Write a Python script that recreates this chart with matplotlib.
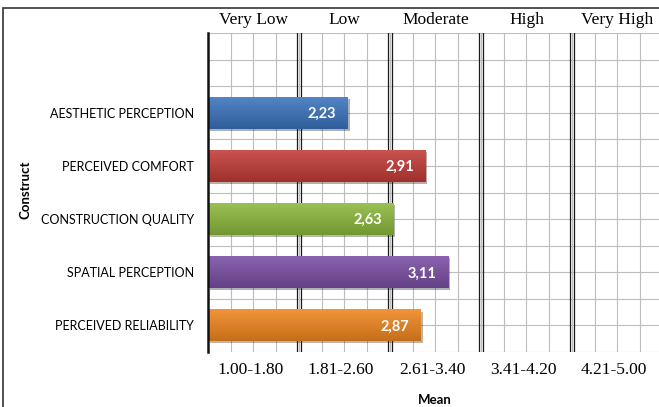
import matplotlib
matplotlib.use("Agg")
import matplotlib.pyplot as plt
import matplotlib.patheffects as pe
import matplotlib.colors as mcolors
import numpy as np
from matplotlib.patches import Rectangle

# data
constructs = ["AESTHETIC PERCEPTION", "PERCEIVED COMFORT", "CONSTRUCTION QUALITY",
              "SPATIAL PERCEPTION", "PERCEIVED RELIABILITY"]
means = [2.23, 2.91, 2.63, 3.11, 2.87]
value_labels = ["2,23", "2,91", "2,63", "3,11", "2,87"]
bar_colors = ["#3b73bd", "#c23b36", "#8cb83c", "#7a4ea3", "#f0861f"]

band_names = ["Very Low", "Low", "Moderate", "High", "Very High"]
band_ranges = ["1.00-1.80", "1.81-2.60", "2.61-3.40", "3.41-4.20", "4.21-5.00"]
band_edges = [1.0, 1.8, 2.6, 3.4, 4.2, 5.0]

fig = plt.figure(figsize=(6.59, 4.07), dpi=100)
ax = fig.add_axes([208/659, 1-352/407, (659-208)/659, (352-33)/407])

xmax = 4.965
ax.set_xlim(1.0, xmax)
ax.set_ylim(-0.5, 5.5)

# light grid
for xv in np.arange(1.2, 5.0, 0.2):
    ax.axvline(xv, color="#bdbdbd", lw=0.8, zorder=0)
for yv in np.arange(-0.5, 5.51, 0.5):
    ax.axhline(yv, color="#bdbdbd", lw=0.8, zorder=0)

# double lines at band edges
for e in band_edges[1:-1]:
    for d in (-0.016, 0.016):
        ax.axvline(e + d, color="#1a1a1a", lw=0.9, zorder=1)

y = np.arange(len(constructs))[::-1]
h = 0.6
bars = ax.barh(y, [m - 1.0 for m in means], left=1.0, height=h,
               color=bar_colors, zorder=3)
for b in bars:
    b.set_path_effects([pe.SimplePatchShadow(offset=(1.5, -1.5), alpha=0.35),
                        pe.Normal()])

# gradient fill on top of each bar
for yi, m, c in zip(y, means, bar_colors):
    rgb = np.array(mcolors.to_rgb(c))
    top = rgb + (1 - rgb) * 0.12
    bot = rgb * 0.82
    t = np.linspace(0, 1, 64)[:, None]
    grad = top * (1 - t) + bot * t
    ax.imshow(grad[:, None, :], extent=[1.0, m, yi - h/2, yi + h/2],
              aspect="auto", zorder=3.5, interpolation="bilinear")
ax.set_xlim(1.0, xmax)
ax.set_ylim(-0.5, 5.5)

for yi, m, lab in zip(y, means, value_labels):
    ax.text(m - 0.1, yi - 0.02, lab, ha="right", va="center", color="white",
            fontsize=10.5, fontweight="bold", family=["Lato", "DejaVu Sans"], zorder=4)

ax.set_yticks(y)
ax.set_yticklabels(constructs, fontsize=9, family=["Lato", "DejaVu Sans"])
ax.tick_params(axis="y", length=0, pad=10)
ax.set_xticks([])

for s in ["top", "right", "bottom"]:
    ax.spines[s].set_visible(False)
ax.spines["left"].set_linewidth(1.8)
ax.spines["left"].set_color("#111111")
ax.spines["left"].set_zorder(5)

# band labels top and ranges bottom
for i in range(len(band_names)):
    c = (band_edges[i] + band_edges[i+1]) / 2
    ax.text(c, 5.5 + 0.25, band_names[i], ha="center", va="center",
            fontsize=12.5, family=["Liberation Serif", "DejaVu Serif"])
    ax.text(c - 0.03, -0.5 - 0.33, band_ranges[i], ha="center", va="center",
            fontsize=12.5, family=["Liberation Serif", "DejaVu Serif"])

fig.text(435/659, 1-400/407, "Mean", ha="center", va="center", fontsize=9.5,
         fontweight="bold", family=["Lato", "DejaVu Sans"])
fig.text(25/659, 1-190/407, "Construct", ha="center", va="center", fontsize=9.5,
         fontweight="bold", rotation=90, family=["Lato", "DejaVu Sans"])

# outer frame
fig.patches.append(Rectangle((3/659, -0.1), 1.2, 1 - 8/407 + 0.1, transform=fig.transFigure,
                             fill=False, edgecolor="#333333", lw=1.2))

plt.savefig("out.png", dpi=100)
